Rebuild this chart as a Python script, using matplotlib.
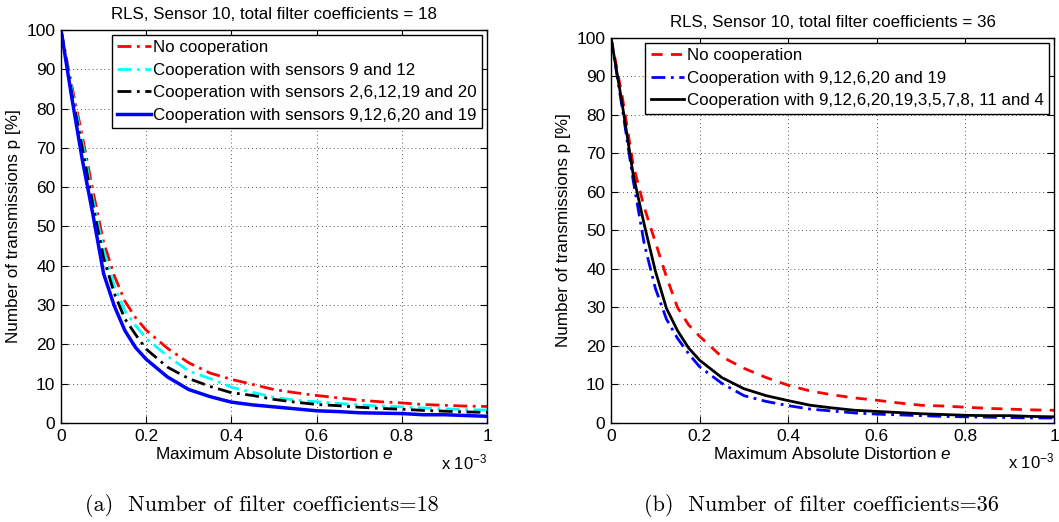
import matplotlib
matplotlib.use("Agg")
import matplotlib.pyplot as plt
import numpy as np

plt.rcParams['font.family'] = ['Liberation Sans', 'DejaVu Sans']
plt.rcParams['mathtext.fontset'] = 'custom'
plt.rcParams['mathtext.it'] = 'Liberation Sans:italic'
plt.rcParams['mathtext.rm'] = 'Liberation Sans'

# Maximum absolute distortion e (x 1e-3)
e_vals = [0, 0.025, 0.05, 0.075, 0.1, 0.125, 0.15, 0.175, 0.2, 0.25, 0.3,
          0.35, 0.4, 0.45, 0.5, 0.55, 0.6, 0.65, 0.7, 0.75, 0.8, 0.85,
          0.9, 0.95, 1.0]

# Panel (a): 18 filter coefficients, transmissions in %
a_none = [100, 86, 73, 59, 46, 37.5, 31, 26.8, 23.6, 19, 15.3,
          12.7, 11.1, 9.8, 8.5, 7.7, 7.0, 6.4, 5.8, 5.4, 5.1, 4.7,
          4.5, 4.3, 4.2]
a_s9_12 = [100, 85, 71.5, 57, 44, 35, 28.5, 24.8, 21.5, 17, 13.2,
           11.3, 9.1, 7.8, 6.5, 5.8, 5.4, 5.0, 4.6, 4.3, 4.1, 3.8,
           3.6, 3.4, 3.3]
a_s2_6_12_19_20 = [100, 84, 70, 55.5, 42, 33, 26.5, 22.5, 18.8, 14.2, 11.3,
                   9.3, 7.7, 7.0, 6.0, 5.3, 4.7, 4.4, 4.0, 3.7, 3.5, 3.2,
                   3.0, 2.8, 2.7]
a_s9_12_6_20_19 = [100, 83, 67, 53, 38, 29.8, 23.5, 19.2, 16.2, 11.7, 8.5,
                   6.7, 5.3, 4.6, 4.1, 3.6, 3.1, 2.9, 2.6, 2.5, 2.4, 2.1,
                   2.1, 1.9, 1.7]

# Panel (b): 36 filter coefficients, transmissions in %
b_none = [100, 85, 67, 56, 47, 38, 30, 25.5, 22.5, 17.2, 14.2,
          11.8, 9.8, 8.3, 7.3, 6.5, 5.9, 5.2, 4.6, 4.4, 4.1, 3.8,
          3.6, 3.4, 3.3]
b_s5 = [100, 82, 63, 46.5, 35, 27, 22, 18, 14.6, 10.3, 7.1,
        5.6, 4.5, 3.6, 3.1, 2.6, 2.3, 2.1, 1.9, 1.7, 1.6, 1.5,
        1.4, 1.3, 1.3]
b_s11 = [100, 83, 64.5, 51.5, 39.5, 29.8, 24, 19.5, 16.3, 11.8, 8.9,
         7.1, 5.8, 4.6, 3.9, 3.3, 3.0, 2.7, 2.4, 2.2, 2.0, 1.9,
         1.9, 1.7, 1.6]

labels_a = ["No cooperation",
            "Cooperation with sensors 9 and 12",
            "Cooperation with sensors 2,6,12,19 and 20",
            "Cooperation with sensors 9,12,6,20 and 19"]
labels_b = ["No cooperation",
            "Cooperation with 9,12,6,20 and 19",
            "Cooperation with 9,12,6,20,19,3,5,7,8, 11 and 4"]

x = np.array(e_vals) * 1e-3

fig = plt.figure(figsize=(10.59, 5.22), dpi=100)
ax1 = fig.add_axes([0.0576, 0.1897, 0.4023, 0.7529])
ax2 = fig.add_axes([0.5770, 0.1897, 0.4183, 0.7375])

dashdot = (0, (5, 2, 1, 2))

ax1.plot(x, a_none, color='red', lw=2, ls=dashdot, label=labels_a[0])
ax1.plot(x, a_s9_12, color='cyan', lw=2, ls=dashdot, label=labels_a[1])
ax1.plot(x, a_s2_6_12_19_20, color='black', lw=2, ls=dashdot, label=labels_a[2])
ax1.plot(x, a_s9_12_6_20_19, color='blue', lw=2.5, ls='-', label=labels_a[3])

ax2.plot(x, b_none, color='red', lw=2, ls=(0, (4, 3)), label=labels_b[0])
ax2.plot(x, b_s5, color='blue', lw=2, ls=dashdot, label=labels_b[1])
ax2.plot(x, b_s11, color='black', lw=2, ls='-', label=labels_b[2])

titles = ["RLS, Sensor 10, total filter coefficients = 18",
          "RLS, Sensor 10, total filter coefficients = 36"]
captions = ["(a)  Number of filter coefficients=18",
            "(b)  Number of filter coefficients=36"]

for ax, title in zip((ax1, ax2), titles):
    ax.set_xlim(0, 1e-3)
    ax.set_ylim(0, 100)
    ax.set_xticks(np.arange(0, 1.01, 0.2) * 1e-3)
    ax.set_xticklabels(['0', '0.2', '0.4', '0.6', '0.8', '1'])
    ax.set_yticks(np.arange(0, 101, 10))
    ax.tick_params(direction='in', top=True, right=True, labelsize=12.5,
                   length=5, width=0.8, pad=4)
    ax.grid(True, ls=(0, (1, 3)), color='#555555', lw=0.7)
    for s in ax.spines.values():
        s.set_linewidth(1.0)
    ax.set_title(title, fontsize=12.2, pad=8)
    ax.set_xlabel("Maximum Absolute Distortion $e$", fontsize=12.3, labelpad=2)
    ax.set_ylabel("Number of transmissions p [%]", fontsize=12.3, labelpad=4)
    ax.text(1.0, -0.074, r"x 10$^{-3}$", transform=ax.transAxes,
            ha='right', va='top', fontsize=12)
    ax.legend(loc='upper right', fontsize=12.2, frameon=True, fancybox=False,
              edgecolor='black', framealpha=1, borderpad=0.3,
              handlelength=2.0, handletextpad=0.15, labelspacing=0.45,
              borderaxespad=0.3)

fig.text(0.2474, 0.031, captions[0], ha='center', va='center',
         fontsize=16, family='cmr10')
fig.text(0.7753, 0.031, captions[1], ha='center', va='center',
         fontsize=16, family='cmr10')

fig.savefig("out.png", dpi=100)
